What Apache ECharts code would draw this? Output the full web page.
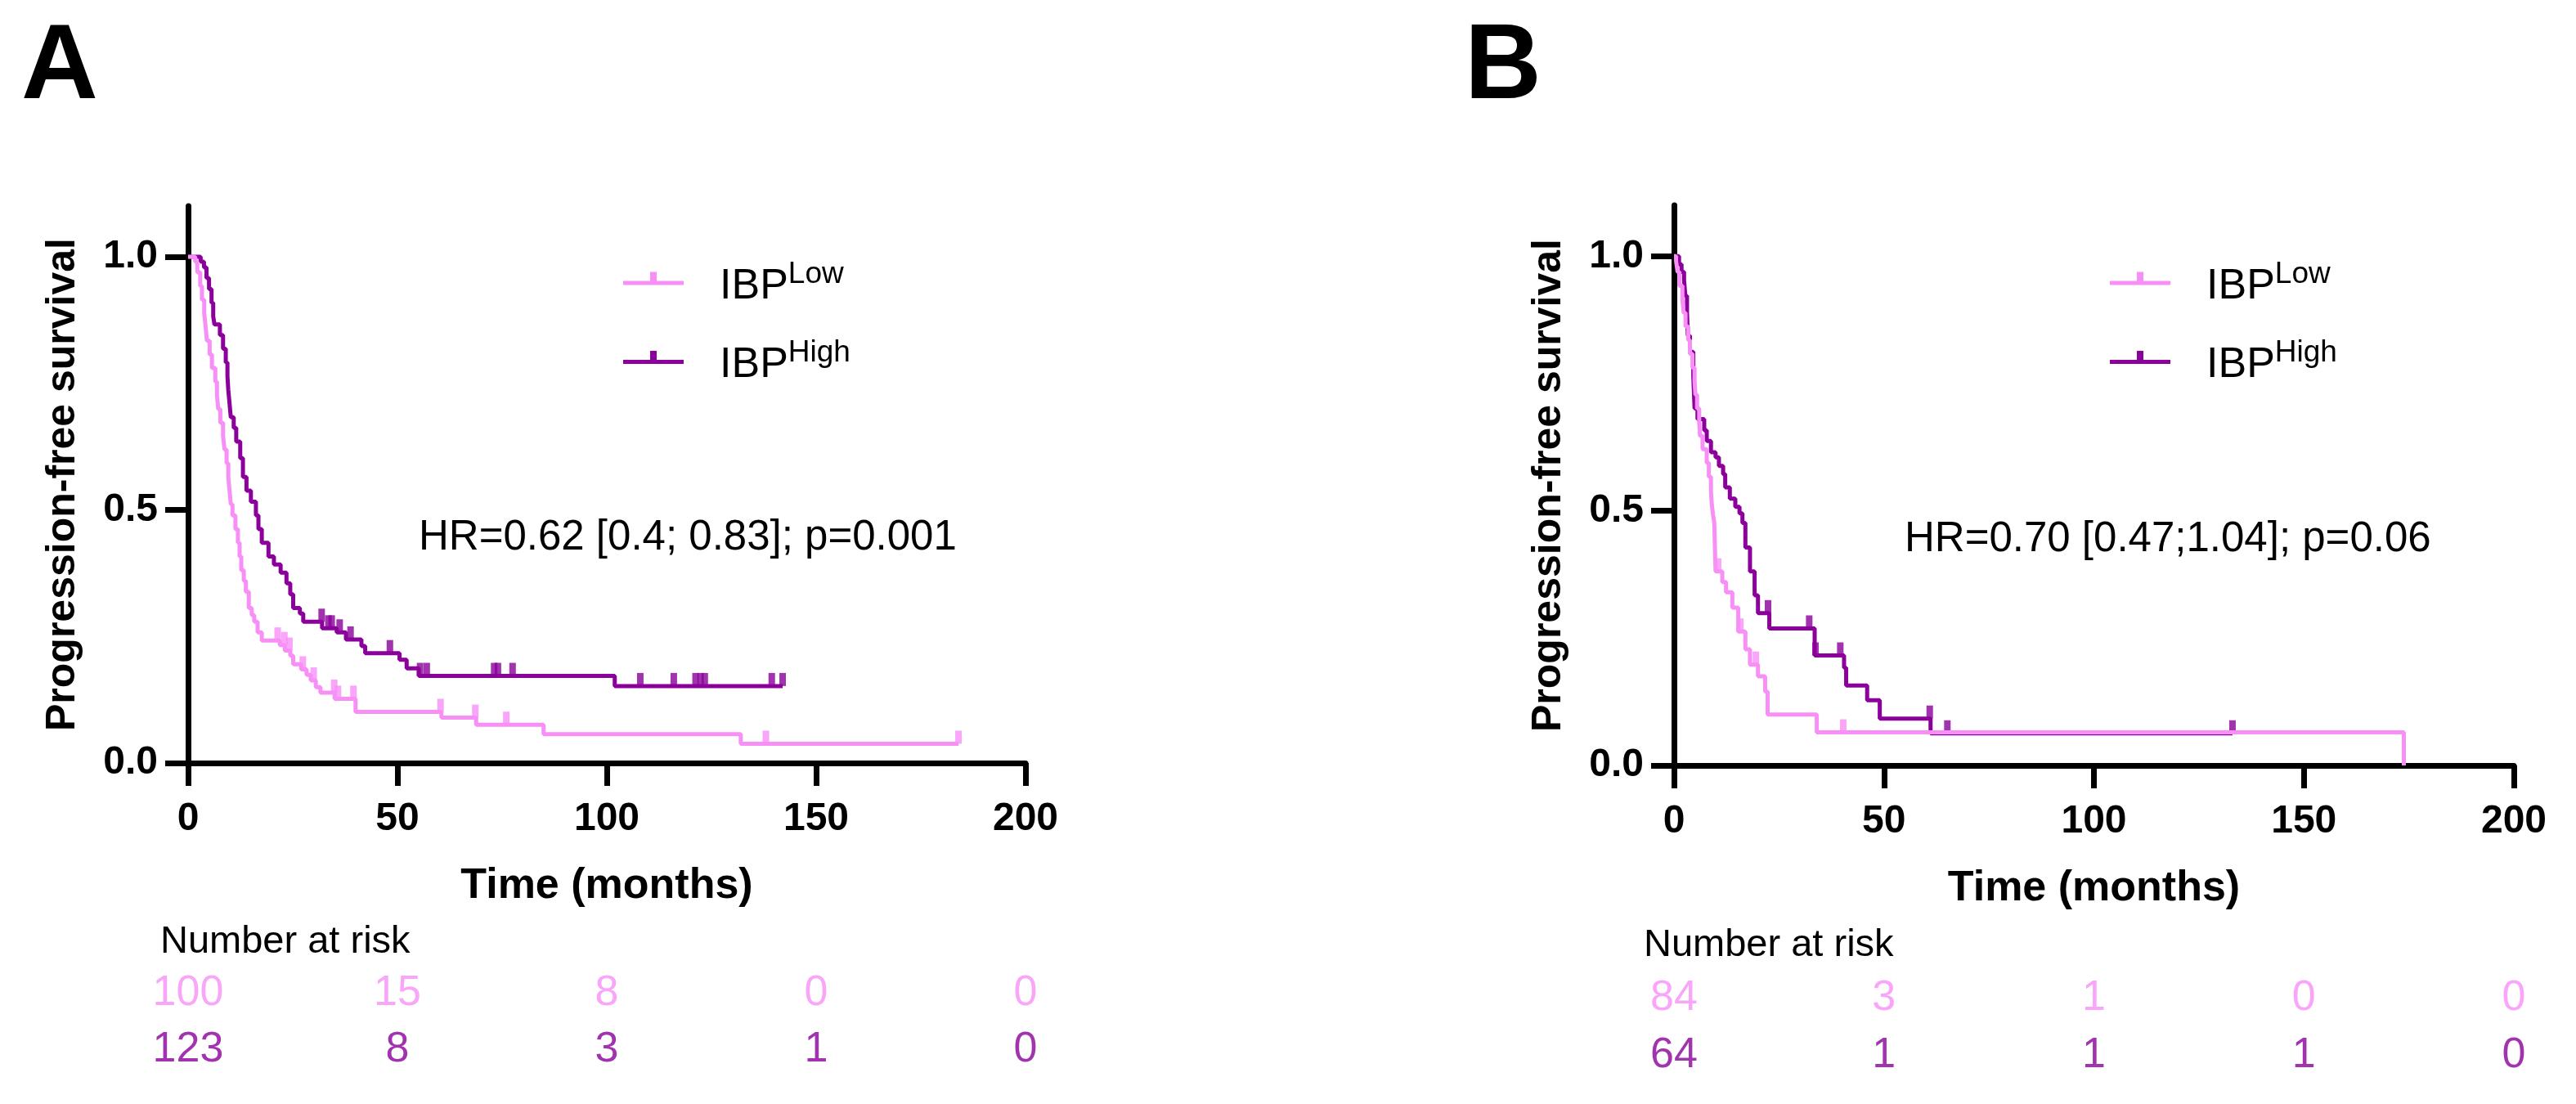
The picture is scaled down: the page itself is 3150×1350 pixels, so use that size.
<!DOCTYPE html>
<html>
<head>
<meta charset="utf-8">
<title>PFS by IBP</title>
<script src="https://cdn.jsdelivr.net/npm/echarts@6/dist/echarts.min.js"></script>
<style>
  html, body { margin: 0; padding: 0; background: #fff; }
  #chart { width: 3150px; height: 1350px; }
</style>
</head>
<body>
<div id="chart"></div>
<script>
// ---- data ----
// panel A
var lowTimeA = [0, 1.7, 2.2, 2.9, 3.3, 3.85, 4.2, 4.5, 5.15, 5.7, 6.5, 6.9, 7.2, 7.7, 8.35, 8.7, 9.2, 9.6, 9.9, 10.2, 10.6, 11.3, 11.9, 12.3, 12.7, 13.3, 13.8, 14.5, 15.2, 15.8, 16.6, 17.6, 21.9, 23.1, 24.4, 25.1, 27.0, 28.3, 29.3, 30.5, 31.6, 35.0, 40.0, 60.5, 68.8, 84.9, 132, 184];
var lowSurvA = [1, 0.99, 0.969, 0.942, 0.915, 0.888, 0.861, 0.834, 0.807, 0.78, 0.753, 0.726, 0.699, 0.672, 0.646, 0.619, 0.592, 0.565, 0.538, 0.511, 0.489, 0.462, 0.435, 0.408, 0.381, 0.36, 0.338, 0.306, 0.292, 0.279, 0.258, 0.242, 0.233, 0.222, 0.212, 0.195, 0.185, 0.174, 0.163, 0.15, 0.139, 0.127, 0.101, 0.0895, 0.0755, 0.057, 0.038, 0.038];
var lowCensorA = [21.4, 23.0, 24.2, 27.4, 30.0, 34.9, 35.8, 39.5, 60.3, 68.6, 76.0, 138, 184];

var highTimeA = [0, 3.0, 3.8, 4.4, 5.0, 5.6, 6.0, 6.3, 7.6, 8.35, 9.0, 9.4, 9.6, 9.9, 10.2, 10.9, 11.5, 12.45, 13.1, 13.95, 15.0, 16.2, 16.8, 17.6, 19.2, 20.5, 22.1, 23.5, 24.4, 25.1, 26.7, 27.5, 32.0, 35.5, 37.7, 41.4, 42.3, 50.5, 52.2, 55.1, 101.9, 142];
var highSurvA = [1, 0.99, 0.979, 0.958, 0.936, 0.909, 0.882, 0.866, 0.845, 0.818, 0.791, 0.764, 0.737, 0.71, 0.683, 0.662, 0.635, 0.602, 0.565, 0.538, 0.516, 0.489, 0.462, 0.435, 0.408, 0.392, 0.376, 0.355, 0.333, 0.306, 0.295, 0.279, 0.266, 0.258, 0.244, 0.231, 0.217, 0.204, 0.187, 0.172, 0.152, 0.152];
var highCensorA = [31.9, 33.5, 34.3, 36.2, 38.8, 48.2, 55.4, 57.0, 73.1, 74.0, 77.5, 108, 116, 121.2, 122.4, 123.4, 139.4, 142];

// panel B
var lowTimeB = [0, 0.5, 0.86, 1.3, 2.0, 2.3, 2.75, 3.4, 3.8, 4.4, 4.9, 5.1, 5.5, 6.0, 6.2, 6.8, 7.8, 8.3, 8.8, 9.0, 9.3, 9.6, 9.9, 11.5, 12.4, 13.9, 15.3, 17.0, 18.1, 20.0, 21.7, 22.3, 34.0, 173.8];
var lowSurvB = [1, 0.99, 0.969, 0.942, 0.915, 0.889, 0.862, 0.835, 0.808, 0.781, 0.754, 0.728, 0.701, 0.674, 0.647, 0.621, 0.594, 0.567, 0.54, 0.513, 0.492, 0.476, 0.381, 0.36, 0.34, 0.31, 0.263, 0.228, 0.198, 0.175, 0.145, 0.1, 0.065, 0];
var lowCensorB = [10.5, 15.8, 19.5, 40.3];

var highTimeB = [0, 1.2, 1.8, 2.4, 2.7, 3.1, 3.3, 3.8, 4.6, 4.9, 5.6, 7.2, 7.8, 8.8, 9.9, 10.7, 11.7, 12.2, 13.3, 14.6, 15.6, 16.3, 17.0, 18.1, 19.2, 20.0, 22.7, 33.5, 40.5, 41.0, 46.0, 49.0, 61.1, 133];
var highSurvB = [1, 0.984, 0.969, 0.953, 0.922, 0.889, 0.844, 0.812, 0.765, 0.701, 0.68, 0.658, 0.637, 0.615, 0.605, 0.588, 0.572, 0.546, 0.524, 0.508, 0.495, 0.476, 0.428, 0.381, 0.334, 0.299, 0.269, 0.216, 0.192, 0.157, 0.128, 0.092, 0.063, 0.063];
var highCensorB = [22.4, 32.2, 33.7, 39.6, 60.9, 65.1, 133];

// number at risk
var riskTicks = [0, 50, 100, 150, 200];
var riskLowA = [100, 15, 8, 0, 0];
var riskHighA = [123, 8, 3, 1, 0];
var riskLowB = [84, 3, 1, 0, 0];
var riskHighB = [64, 1, 1, 1, 0];

var xTicks = [0, 50, 100, 150, 200];
var yTicks = [0, 0.5, 1.0];

// ---- styling ----
var LOW = '#F78FF7';
var HIGH = '#8B009B';
var FONT = '"Liberation Sans", Arial, sans-serif';
var TICK_ICON = 'path://M0,11H74V16H0Z M33,0H41V11H33Z';

function pairs(t, s) {
    return t.map(function (v, i) { return [v, s[i]]; });
}
// survival value of the step curve at time t (for placing censor ticks)
function survAt(t, times, surv) {
    var v = surv[0];
    for (var i = 0; i < times.length; i++) {
        if (times[i] <= t) v = surv[i];
    }
    return v;
}
function censorPts(c, times, surv) {
    return c.map(function (t) { return [t, survAt(t, times, surv)]; });
}
function riskPts(vals, row) {
    return vals.map(function (v, i) { return [riskTicks[i], row, v]; });
}

function mainX(gi) {
    return {
        gridIndex: gi, type: 'value', min: 0, max: 200, interval: 50,
        name: 'Time (months)', nameLocation: 'middle', nameGap: 125,
        nameTextStyle: { fontFamily: FONT, fontSize: 52, fontWeight: 'bold', color: '#000' },
        axisLine: { show: true, onZero: false, lineStyle: { color: '#000', width: 7 } },
        axisTick: { show: true, inside: false, length: 28, customValues: xTicks, lineStyle: { color: '#000', width: 7 } },
        axisLabel: { show: true, margin: 45, customValues: xTicks, fontFamily: FONT, fontSize: 48, fontWeight: 'bold', color: '#000' },
        splitLine: { show: false }
    };
}
function mainY(gi) {
    return {
        gridIndex: gi, type: 'value', min: 0, max: 1.1,
        name: 'Progression-free survival', nameLocation: 'middle', nameGap: 128, nameRotate: 90,
        nameTextStyle: { fontFamily: FONT, fontSize: 50, fontWeight: 'bold', color: '#000' },
        axisLine: { show: true, onZero: false, lineStyle: { color: '#000', width: 7 } },
        axisTick: { show: true, inside: false, length: 28, customValues: yTicks, lineStyle: { color: '#000', width: 7 } },
        axisLabel: {
            show: true, margin: 37, customValues: yTicks,
            fontFamily: FONT, fontSize: 48, fontWeight: 'bold', color: '#000',
            formatter: function (v) { return v.toFixed(1); }
        },
        splitLine: { show: false }
    };
}
function riskX(gi) {
    return { gridIndex: gi, type: 'value', min: 0, max: 200, show: false };
}
function riskY(gi) {
    return { gridIndex: gi, type: 'category', data: ['Low', 'High'], inverse: true, show: false };
}

function kmLine(name, color, idx, times, surv) {
    return {
        name: name, type: 'line', step: 'end', xAxisIndex: idx, yAxisIndex: idx,
        data: pairs(times, surv), symbol: 'none', silent: true,
        lineStyle: { color: color, width: 5 }, itemStyle: { color: color }
    };
}
function censorSeries(name, color, idx, c, times, surv) {
    return {
        name: name, type: 'scatter', xAxisIndex: idx, yAxisIndex: idx,
        data: censorPts(c, times, surv), symbol: 'rect', symbolSize: [8, 16], symbolOffset: [0, -8],
        itemStyle: { color: color }, silent: true
    };
}
function riskSeries(color, idx, vals, row) {
    return {
        name: 'risk ' + row, type: 'scatter', xAxisIndex: idx, yAxisIndex: idx,
        data: riskPts(vals, row), symbolSize: 1, silent: true,
        itemStyle: { color: 'rgba(0,0,0,0)' },
        label: {
            show: true, position: 'inside', color: color, fontFamily: FONT, fontSize: 52,
            formatter: function (p) { return String(p.value[2]); }
        }
    };
}
function legendFor(left) {
    return {
        orient: 'vertical', left: left, top: 317, padding: 0, itemGap: 37,
        itemWidth: 74, itemHeight: 16, selectedMode: false,
        data: [
            { name: 'Low', icon: TICK_ICON, itemStyle: { color: LOW } },
            { name: 'High', icon: TICK_ICON, itemStyle: { color: HIGH } }
        ],
        formatter: function (n) { return '{m|IBP}{s|' + n + '}'; },
        textStyle: {
            color: '#000', fontFamily: FONT, padding: [20, 0, 0, 39],
            rich: {
                m: { fontFamily: FONT, fontSize: 52, lineHeight: 67, color: '#000' },
                s: { fontFamily: FONT, fontSize: 37, lineHeight: 37, verticalAlign: 'top', color: '#000' }
            }
        }
    };
}
function txt(x, y, text, size, weight, align) {
    return {
        type: 'text', x: x, y: y, silent: true,
        style: {
            text: text, fill: '#000', font: weight + ' ' + size + 'px ' + FONT,
            align: align || 'left', verticalAlign: 'middle'
        }
    };
}

var chart = echarts.init(document.getElementById('chart'), null, { renderer: 'canvas' });
chart.setOption({
    animation: false,
    backgroundColor: '#fff',
    grid: [
        { left: 230, top: 252, width: 1024, height: 681, outerBoundsMode: 'none' },
        { left: 2047, top: 251, width: 1027, height: 685, outerBoundsMode: 'none' },
        { left: 230, top: 1180, width: 1024, height: 138, outerBoundsMode: 'none' },
        { left: 2047, top: 1186, width: 1027, height: 140, outerBoundsMode: 'none' }
    ],
    xAxis: [mainX(0), mainX(1), riskX(2), riskX(3)],
    yAxis: [mainY(0), mainY(1), riskY(2), riskY(3)],
    legend: [legendFor(762), legendFor(2580)],
    graphic: [
        txt(26, 84, 'A', 130, 'bold'),
        txt(1791, 84, 'B', 130, 'bold'),
        txt(512, 658, 'HR=0.62 [0.4; 0.83]; p=0.001', 51, 'normal'),
        txt(2329, 660, 'HR=0.70 [0.47;1.04]; p=0.06', 51, 'normal'),
        txt(196, 1152, 'Number at risk', 47, 'normal'),
        txt(2010, 1156, 'Number at risk', 47, 'normal')
    ],
    series: [
        kmLine('High', HIGH, 0, highTimeA, highSurvA),
        censorSeries('High censored A', HIGH, 0, highCensorA, highTimeA, highSurvA),
        kmLine('Low', LOW, 0, lowTimeA, lowSurvA),
        censorSeries('Low censored A', LOW, 0, lowCensorA, lowTimeA, lowSurvA),

        kmLine('High', HIGH, 1, highTimeB, highSurvB),
        censorSeries('High censored B', HIGH, 1, highCensorB, highTimeB, highSurvB),
        kmLine('Low', LOW, 1, lowTimeB, lowSurvB),
        censorSeries('Low censored B', LOW, 1, lowCensorB, lowTimeB, lowSurvB),

        riskSeries(LOW, 2, riskLowA, 'Low'),
        riskSeries(HIGH, 2, riskHighA, 'High'),
        riskSeries(LOW, 3, riskLowB, 'Low'),
        riskSeries(HIGH, 3, riskHighB, 'High')
    ]
});
</script>
</body>
</html>
